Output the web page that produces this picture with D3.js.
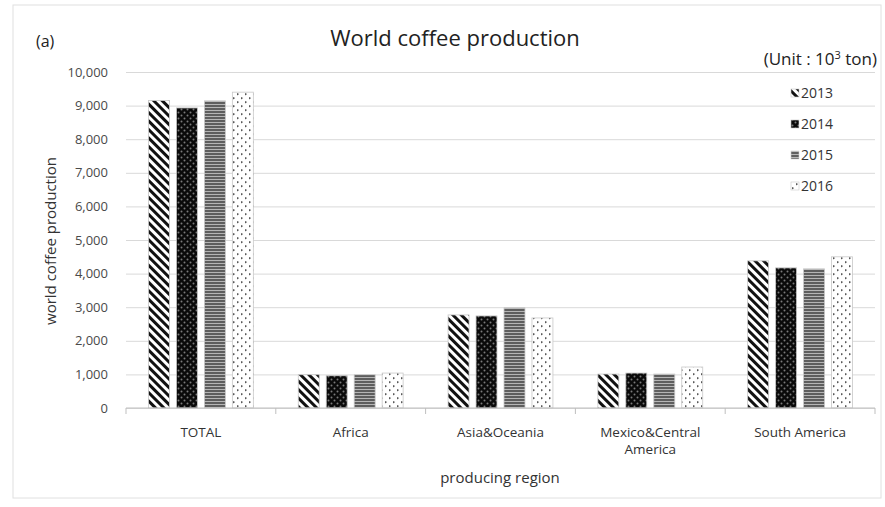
<!DOCTYPE html>
<html><head><meta charset="utf-8">
<script src="https://cdn.jsdelivr.net/npm/d3@7"></script>
<style>
body{margin:0;background:#fff;}
text{font-family:"Open Sans",Lato,sans-serif;}
</style></head>
<body><svg id="c" width="885" height="507"></svg>
<script>
const categories = ["TOTAL","Africa","Asia&Oceania","Mexico&Central America","South America"];
const years = ["2013","2014","2015","2016"];
const v2013 = [9150, 990, 2770, 1010, 4380];
const v2014 = [8930, 960, 2740, 1040, 4170];
const v2015 = [9140, 990, 2980, 1010, 4140];
const v2016 = [9400, 1040, 2680, 1220, 4500];
const yTicks = [0,1000,2000,3000,4000,5000,6000,7000,8000,9000,10000];
const series = [v2013, v2014, v2015, v2016];

(function(){
const svg = d3.select("#c");
const defs = svg.append("defs");
// 2013 diagonal stripes
const p1 = defs.append("pattern").attr("id","p2013").attr("patternUnits","userSpaceOnUse")
  .attr("width",6).attr("height",6).attr("patternTransform","rotate(-45)");
p1.append("rect").attr("width",6).attr("height",6).attr("fill","#fff");
p1.append("rect").attr("width",3).attr("height",6).attr("fill","#111");
// 2014 black with dots
const p2 = defs.append("pattern").attr("id","p2014").attr("patternUnits","userSpaceOnUse")
  .attr("width",6).attr("height",6);
p2.append("rect").attr("width",6).attr("height",6).attr("fill","#0a0a0a");
p2.append("circle").attr("cx",1.5).attr("cy",1.5).attr("r",1).attr("fill","#7a7a7a");
p2.append("circle").attr("cx",4.5).attr("cy",4.5).attr("r",1).attr("fill","#7a7a7a");
// 2015 horizontal lines
const p3 = defs.append("pattern").attr("id","p2015").attr("patternUnits","userSpaceOnUse")
  .attr("width",4).attr("height",3);
p3.append("rect").attr("width",4).attr("height",3).attr("fill","#5e5e5e");
p3.append("rect").attr("y",2).attr("width",4).attr("height",1).attr("fill","#b5b5b5");
// 2016 sparse dots
const p4 = defs.append("pattern").attr("id","p2016").attr("patternUnits","userSpaceOnUse")
  .attr("width",8).attr("height",8);
p4.append("rect").attr("width",8).attr("height",8).attr("fill","#fff");
p4.append("path").attr("d","M1,1 L3.2,2 L1,3.4 Z M5,5 L7.2,6 L5,7.4 Z").attr("fill","#555");
const fills = ["url(#p2013)","url(#p2014)","url(#p2015)","url(#p2016)"];

// frame
svg.append("rect").attr("x",13).attr("y",5).attr("width",868).attr("height",493)
  .attr("fill","none").attr("stroke","#e0e0e0");

const pl = 126, pr = 875, pt = 72, pb = 408;
const x0 = d3.scaleBand().domain(categories).range([pl,pr]).paddingInner(0.3).paddingOuter(0.15);
const x1 = d3.scaleBand().domain(years).range([0,x0.bandwidth()]).paddingInner(0.25);
const y = d3.scaleLinear().domain([0,10000]).range([pb,pt]);

// grid
const grid = svg.append("g").attr("transform",`translate(${pl},0)`)
  .call(d3.axisLeft(y).tickValues(yTicks).tickSize(-(pr-pl)).tickFormat(""));
grid.select(".domain").remove();
grid.selectAll("line").attr("stroke","#d9d9d9");

// y labels
const ya = svg.append("g").attr("transform",`translate(116,0)`)
  .call(d3.axisLeft(y).tickValues(yTicks).tickSize(0).tickPadding(8).tickFormat(d3.format(",")));
ya.select(".domain").remove();
ya.selectAll("text").attr("font-size",13).attr("fill","#4a4a4a").attr("font-family","'Open Sans',sans-serif");

// bars
const g = svg.append("g");
years.forEach((yr,si)=>{
  g.selectAll(".b"+yr).data(series[si]).enter().append("rect")
   .attr("x",(d,i)=>x0(categories[i])+x1(yr))
   .attr("y",d=>y(d)).attr("width",x1.bandwidth()).attr("height",d=>y(0)-y(d))
   .attr("fill",fills[si]).attr("stroke","#c8c8c8").attr("stroke-width",0.8);
});

// x axis
svg.append("line").attr("x1",pl).attr("x2",pr).attr("y1",pb).attr("y2",pb).attr("stroke","#bfbfbf");
const bounds = categories.map(c=>x0(c)-x0.step()*x0.paddingInner()/2).concat([pr]);
svg.selectAll(".xt").data(bounds).enter().append("line")
  .attr("x1",d=>d).attr("x2",d=>d).attr("y1",pb).attr("y2",pb+6).attr("stroke","#bfbfbf");
const xl = svg.selectAll(".xl").data(categories).enter().append("text")
  .attr("x",d=>x0(d)+x0.bandwidth()/2).attr("y",437).attr("text-anchor","middle")
  .attr("font-size",13.5).attr("fill","#333");
xl.each(function(d){
  const t=d3.select(this);
  if(d==="Mexico&Central America"){
    t.append("tspan").attr("x",t.attr("x")).attr("dy",0).text("Mexico&Central");
    t.append("tspan").attr("x",t.attr("x")).attr("dy",17).text("America");
  } else t.text(d);
});

// titles
svg.append("text").attr("x",455).attr("y",46).attr("text-anchor","middle").attr("font-size",22).attr("fill","#222").text("World coffee production");
svg.append("text").attr("x",36).attr("y",47).attr("font-size",16).attr("fill","#222").text("(a)");
const u = svg.append("text").attr("x",877).attr("y",65).attr("text-anchor","end").attr("font-size",17).attr("fill","#222");
u.append("tspan").text("(Unit : 10");
u.append("tspan").attr("font-size",11).attr("dy",-6).text("3");
u.append("tspan").attr("dy",6).text(" ton)");
svg.append("text").attr("x",500).attr("y",483).attr("text-anchor","middle").attr("font-size",15).attr("fill","#333").text("producing region");
svg.append("text").attr("transform","translate(56,241) rotate(-90)").attr("text-anchor","middle").attr("font-size",15).attr("fill","#333").text("world coffee production");

// legend
const lg = svg.selectAll(".lg").data(years).enter().append("g")
  .attr("transform",(d,i)=>`translate(791,${93+i*31})`);
lg.append("rect").attr("x",0).attr("y",-4).attr("width",8).attr("height",8)
  .attr("fill",(d,i)=>fills[i]).attr("stroke","#c8c8c8").attr("stroke-width",0.6);
lg.append("text").attr("x",10).attr("y",5).attr("font-size",14).attr("fill","#333").text(d=>d);
})();
</script></body></html>
